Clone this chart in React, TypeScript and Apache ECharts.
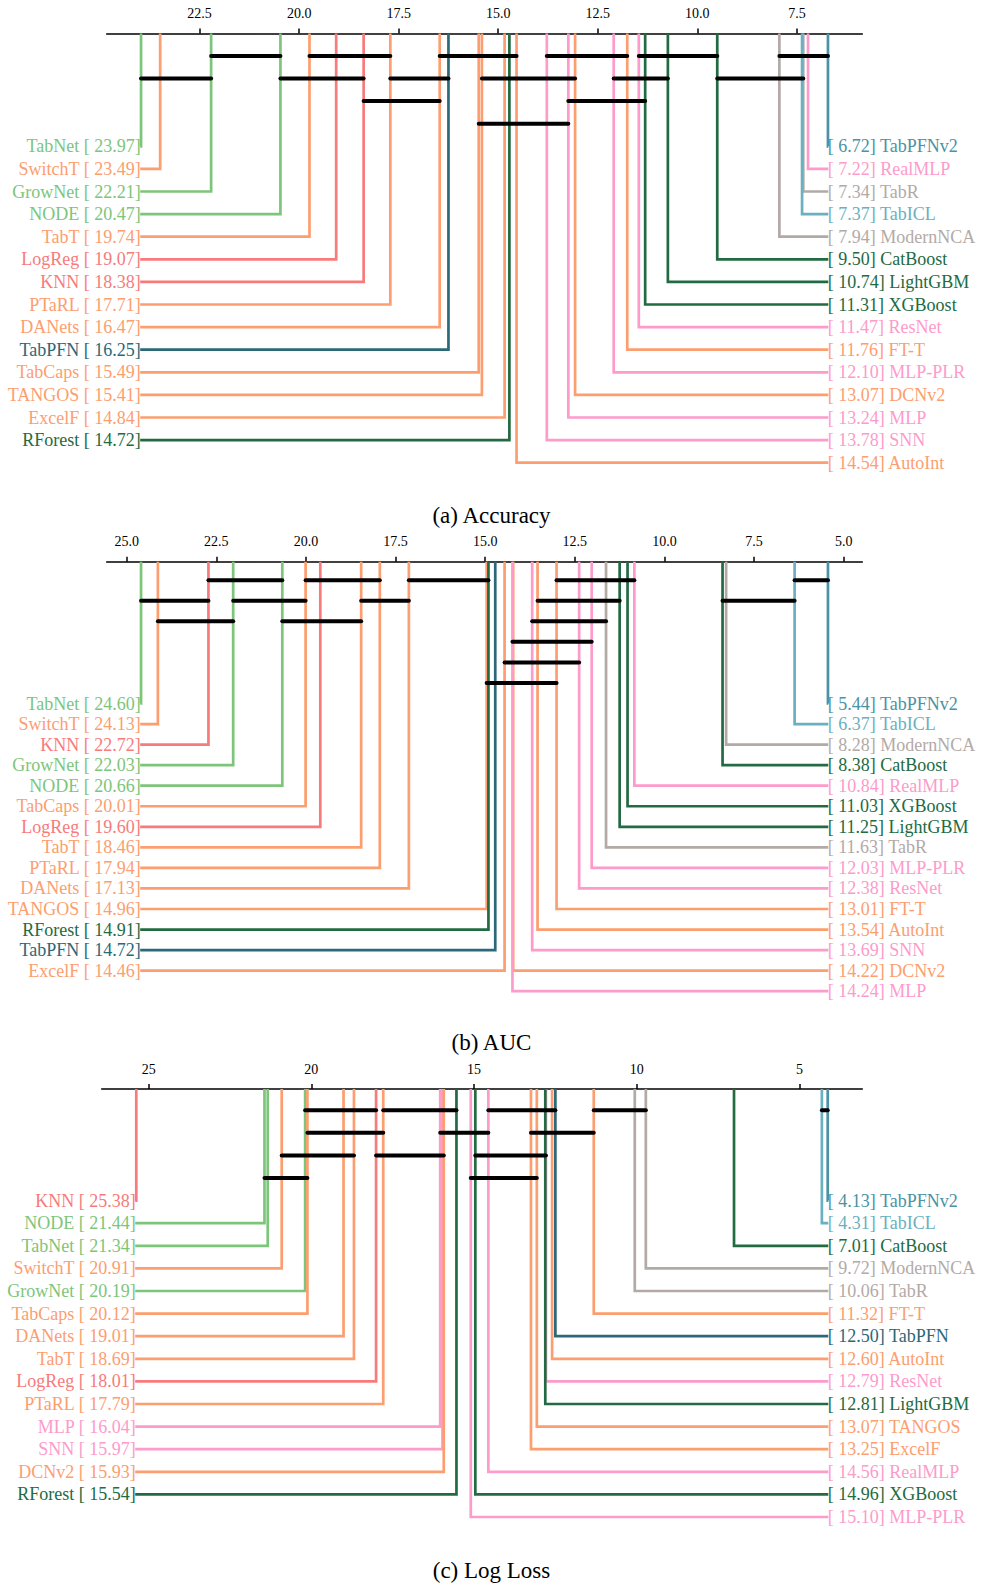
import React, { useEffect, useRef } from "react";
import * as echarts from "echarts";

// ---------- Data ----------
// (a) Accuracy
const leftNamesA = ["TabNet", "SwitchT", "GrowNet", "NODE", "TabT", "LogReg", "KNN", "PTaRL", "DANets", "TabPFN", "TabCaps", "TANGOS", "ExcelF", "RForest"];
const leftRanksA = [23.97, 23.49, 22.21, 20.47, 19.74, 19.07, 18.38, 17.71, 16.47, 16.25, 15.49, 15.41, 14.84, 14.72];
const rightNamesA = ["TabPFNv2", "RealMLP", "TabR", "TabICL", "ModernNCA", "CatBoost", "LightGBM", "XGBoost", "ResNet", "FT-T", "MLP-PLR", "DCNv2", "MLP", "SNN", "AutoInt"];
const rightRanksA = [6.72, 7.22, 7.34, 7.37, 7.94, 9.5, 10.74, 11.31, 11.47, 11.76, 12.1, 13.07, 13.24, 13.78, 14.54];
// cliques: [worse rank, better rank, level (1 = top)]
const cliquesA = [
  [22.21, 20.47, 1], [19.74, 17.71, 1], [16.47, 14.54, 1], [13.78, 11.76, 1], [11.47, 9.5, 1], [7.94, 6.72, 1],
  [23.97, 22.21, 2], [20.47, 18.38, 2], [17.71, 16.25, 2], [15.41, 13.07, 2], [12.1, 10.74, 2], [9.5, 7.34, 2],
  [18.38, 16.47, 3], [13.24, 11.31, 3],
  [15.49, 13.24, 4],
];
const ticksA = [7.5, 10, 12.5, 15, 17.5, 20, 22.5];

// (b) AUC
const leftNamesB = ["TabNet", "SwitchT", "KNN", "GrowNet", "NODE", "TabCaps", "LogReg", "TabT", "PTaRL", "DANets", "TANGOS", "RForest", "TabPFN", "ExcelF"];
const leftRanksB = [24.6, 24.13, 22.72, 22.03, 20.66, 20.01, 19.6, 18.46, 17.94, 17.13, 14.96, 14.91, 14.72, 14.46];
const rightNamesB = ["TabPFNv2", "TabICL", "ModernNCA", "CatBoost", "RealMLP", "XGBoost", "LightGBM", "TabR", "MLP-PLR", "ResNet", "FT-T", "AutoInt", "SNN", "DCNv2", "MLP"];
const rightRanksB = [5.44, 6.37, 8.28, 8.38, 10.84, 11.03, 11.25, 11.63, 12.03, 12.38, 13.01, 13.54, 13.69, 14.22, 14.24];
const cliquesB = [
  [22.72, 20.66, 1], [20.01, 17.94, 1], [17.13, 14.91, 1], [13.01, 10.84, 1], [6.37, 5.44, 1],
  [24.6, 22.72, 2], [22.03, 20.01, 2], [18.46, 17.13, 2], [13.54, 11.25, 2], [8.38, 6.37, 2],
  [24.13, 22.03, 3], [20.66, 18.46, 3], [13.69, 11.63, 3],
  [14.24, 12.03, 4],
  [14.46, 12.38, 5],
  [14.96, 13.01, 6],
];
const ticksB = [5, 7.5, 10, 12.5, 15, 17.5, 20, 22.5, 25];

// (c) Log Loss
const leftNamesC = ["KNN", "NODE", "TabNet", "SwitchT", "GrowNet", "TabCaps", "DANets", "TabT", "LogReg", "PTaRL", "MLP", "SNN", "DCNv2", "RForest"];
const leftRanksC = [25.38, 21.44, 21.34, 20.91, 20.19, 20.12, 19.01, 18.69, 18.01, 17.79, 16.04, 15.97, 15.93, 15.54];
const rightNamesC = ["TabPFNv2", "TabICL", "CatBoost", "ModernNCA", "TabR", "FT-T", "TabPFN", "AutoInt", "ResNet", "LightGBM", "TANGOS", "ExcelF", "RealMLP", "XGBoost", "MLP-PLR"];
const rightRanksC = [4.13, 4.31, 7.01, 9.72, 10.06, 11.32, 12.5, 12.6, 12.79, 12.81, 13.07, 13.25, 14.56, 14.96, 15.1];
const cliquesC = [
  [20.19, 18.01, 1], [17.79, 15.54, 1], [14.56, 12.5, 1], [11.32, 9.72, 1], [4.31, 4.13, 1],
  [20.12, 17.79, 2], [16.04, 14.56, 2], [13.25, 11.32, 2],
  [20.91, 18.69, 3], [18.01, 15.93, 3], [14.96, 12.79, 3],
  [21.44, 20.12, 4], [15.1, 13.07, 4],
];
const ticksC = [5, 10, 15, 20, 25];

const captions = ["(a) Accuracy", "(b) AUC", "(c) Log Loss"];

// ---------- Styles ----------
const C_LGREEN = "#7dc57a";
const C_ORANGE = "#fc9e6f";
const C_RED = "#f77b7b";
const C_DTEAL = "#2b6878";
const C_DGREEN = "#226b42";
const C_PINK = "#fd9bcb";
const C_GRAY = "#b3aaa6";
const C_LTEAL = "#6ab0c0";
const C_MTEAL = "#4b92a5";

const COLORS: Record<string, string> = {
  TabNet: C_LGREEN, GrowNet: C_LGREEN, NODE: C_LGREEN,
  SwitchT: C_ORANGE, TabT: C_ORANGE, PTaRL: C_ORANGE, DANets: C_ORANGE, TabCaps: C_ORANGE,
  TANGOS: C_ORANGE, ExcelF: C_ORANGE, "FT-T": C_ORANGE, DCNv2: C_ORANGE, AutoInt: C_ORANGE,
  LogReg: C_RED, KNN: C_RED,
  TabPFN: C_DTEAL,
  RForest: C_DGREEN, CatBoost: C_DGREEN, LightGBM: C_DGREEN, XGBoost: C_DGREEN,
  RealMLP: C_PINK, ResNet: C_PINK, "MLP-PLR": C_PINK, MLP: C_PINK, SNN: C_PINK,
  TabR: C_GRAY, ModernNCA: C_GRAY,
  TabICL: C_LTEAL, TabPFNv2: C_MTEAL,
};

const FONT_FAMILY = '"Liberation Serif", "Times New Roman", serif';

type Panel = {
  leftNames: string[]; leftRanks: number[]; rightNames: string[]; rightRanks: number[];
  cliques: number[][]; ticks: number[]; decimals: number;
  axisY: number; row0: number; gap: number; left: number; right: number; captionY: number;
};

const panels: Panel[] = [
  { leftNames: leftNamesA, leftRanks: leftRanksA, rightNames: rightNamesA, rightRanks: rightRanksA, cliques: cliquesA, ticks: ticksA, decimals: 1,
    axisY: 33.5, row0: 146.3, gap: 22.6, left: 106.7, right: 862.3, captionY: 515 },
  { leftNames: leftNamesB, leftRanks: leftRanksB, rightNames: rightNamesB, rightRanks: rightRanksB, cliques: cliquesB, ticks: ticksB, decimals: 1,
    axisY: 561.7, row0: 703.5, gap: 20.55, left: 106.7, right: 862.3, captionY: 1042.6 },
  { leftNames: leftNamesC, leftRanks: leftRanksC, rightNames: rightNamesC, rightRanks: rightRanksC, cliques: cliquesC, ticks: ticksC, decimals: 0,
    axisY: 1089, row0: 1200.6, gap: 22.6, left: 101.7, right: 862.3, captionY: 1570.5 },
];

function buildOption() {
  const grid: any[] = [];
  const xAxis: any[] = [];
  const yAxis: any[] = [];
  const series: any[] = [];
  const graphic: any[] = [];

  panels.forEach((p, gi) => {
    const all = p.leftRanks.concat(p.rightRanks);
    const lo = Math.min(...all);
    const hi = Math.max(...all);
    const pad = (hi - lo) * 0.05;
    const nRows = Math.max(p.leftRanks.length, p.rightRanks.length);
    const yMin = -(p.row0 - p.axisY) / p.gap;
    grid.push({ left: p.left, width: p.right - p.left, top: p.axisY, height: p.row0 + (nRows - 1) * p.gap - p.axisY });
    xAxis.push({
      type: "value", gridIndex: gi, inverse: true, position: "top",
      min: lo - pad, max: hi + pad,
      splitLine: { show: false },
      axisLine: { show: true, onZero: false, lineStyle: { color: "#000", width: 1.5 } },
      axisTick: { show: true, customValues: p.ticks, length: 5, lineStyle: { color: "#000", width: 1.5 } },
      axisLabel: {
        show: true, customValues: p.ticks, margin: 13, color: "#000", fontSize: 14, fontFamily: FONT_FAMILY,
        formatter: (v: number) => v.toFixed(p.decimals),
      },
    });
    yAxis.push({ type: "value", gridIndex: gi, inverse: true, min: yMin, max: nRows - 1, show: false });

    const sideSeries = (names: string[], ranks: number[], side: "left" | "right") => ({
      type: "custom", xAxisIndex: gi, yAxisIndex: gi, z: 2, silent: true,
      data: ranks.map((r, i) => [r, i]),
      renderItem: (params: any, api: any) => {
        const i = params.dataIndex;
        const v = api.value(0);
        const row = api.value(1);
        const top = api.coord([v, yMin]);
        const pt = api.coord([v, row]);
        const cs = params.coordSys;
        const edge = side === "left" ? cs.x + 33.5 : cs.x + cs.width - 34;
        const color = COLORS[names[i]];
        const label = side === "left"
          ? `${names[i]} [ ${ranks[i].toFixed(2)}]`
          : `[ ${ranks[i].toFixed(2)}] ${names[i]}`;
        return {
          type: "group",
          children: [
            {
              type: "polyline",
              shape: { points: [[pt[0], top[1]], [pt[0], pt[1]], [edge, pt[1]]] },
              style: { stroke: color, lineWidth: 2.7, fill: null },
            },
            {
              type: "text",
              style: {
                text: label, x: side === "left" ? edge + 0.5 : edge - 0.5, y: pt[1],
                align: side === "left" ? "right" : "left", verticalAlign: "middle",
                fill: color, fontSize: 18, fontFamily: FONT_FAMILY,
              },
            },
          ],
        };
      },
    });
    series.push(sideSeries(p.leftNames, p.leftRanks, "left"));
    series.push(sideSeries(p.rightNames, p.rightRanks, "right"));

    const nLevels = Math.max(...p.cliques.map((c) => c[2]));
    series.push({
      type: "custom", xAxisIndex: gi, yAxisIndex: gi, z: 5, silent: true,
      data: p.cliques.map((c) => [c[0], c[1], c[2] - nLevels - 1]),
      renderItem: (params: any, api: any) => {
        const a = api.coord([api.value(0), api.value(2)]);
        const b = api.coord([api.value(1), api.value(2)]);
        return {
          type: "line",
          shape: { x1: a[0], y1: a[1], x2: b[0], y2: b[1] },
          style: { stroke: "#000", lineWidth: 4, lineCap: "round" },
        };
      },
    });

    graphic.push({
      type: "text", x: 491.5, y: p.captionY,
      style: { text: captions[gi], align: "center", verticalAlign: "middle", fill: "#000", fontSize: 23, fontFamily: FONT_FAMILY },
    });
  });

  return { animation: false, backgroundColor: "#fff", grid, xAxis, yAxis, series, graphic };
}

export default function App() {
  const ref = useRef<HTMLDivElement>(null);
  useEffect(() => {
    if (!ref.current) return;
    const chart = echarts.init(ref.current, undefined, { renderer: "svg" });
    chart.setOption(buildOption() as any);
    return () => chart.dispose();
  }, []);
  return <div ref={ref} style={{ position: "absolute", left: 0, top: 0, width: 981, height: 1585, background: "#fff" }} />;
}
